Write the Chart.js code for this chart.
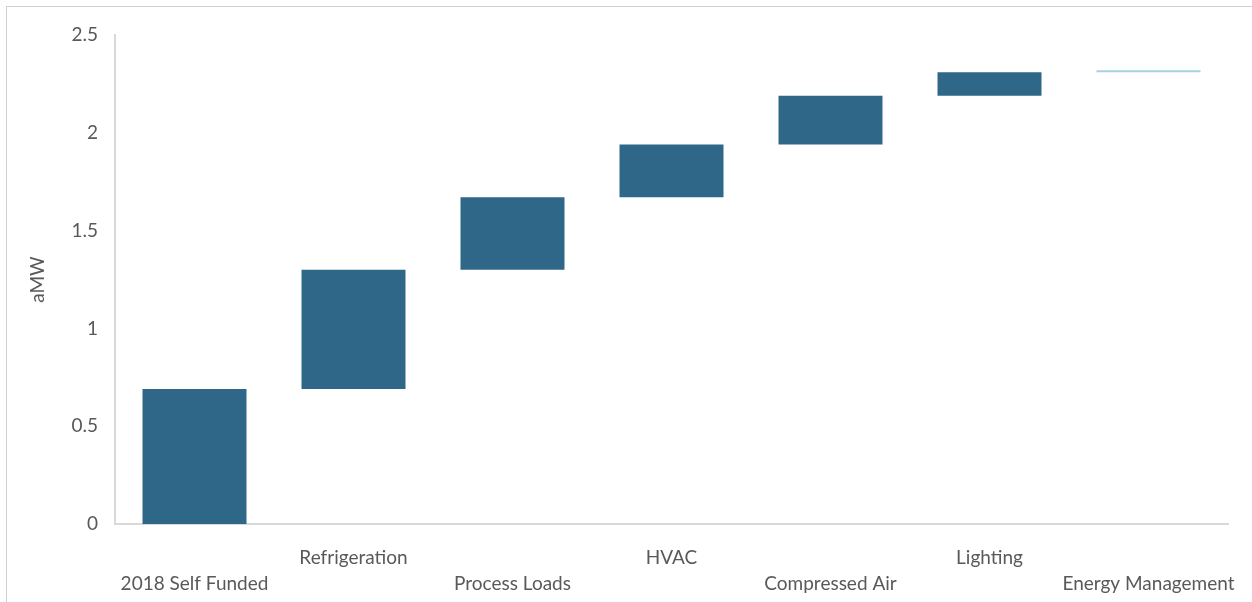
<!DOCTYPE html>
<html>
<head>
<meta charset="utf-8">
<script src="https://cdn.jsdelivr.net/npm/chart.js@4/dist/chart.umd.min.js"></script>
<style>
  html, body { margin: 0; padding: 0; background: #ffffff; }
  #wrap { position: relative; width: 1252px; height: 602px; overflow: hidden; }
  #frame { position: absolute; left: 6px; top: 6px; right: -2px; bottom: -2px;
           border-top: 1px solid #d0d0d0; border-left: 1px solid #d0d0d0; }
  canvas { position: absolute; left: 0; top: 0; }
</style>
</head>
<body>
<div id="wrap">
  <div id="frame"></div>
  <canvas id="c" width="1252" height="602"></canvas>
</div>
<script>
// Savings categories in cumulative (waterfall) order
const categories = ['2018 Self Funded', 'Refrigeration', 'Process Loads', 'HVAC',
                    'Compressed Air', 'Lighting', 'Energy Management'];
// Savings added by each category, aMW
const increments = [0.69, 0.61, 0.37, 0.27, 0.25, 0.12, 0.01];
const yTicks = [0, 0.5, 1, 1.5, 2, 2.5];

// Build floating [start, end] segments from the running total
const segments = [];
let running = 0;
for (const inc of increments) {
  segments.push([running, running + inc]);
  running += inc;
}

const barColors = categories.map((c, i) => i === categories.length - 1 ? '#a8d0e4' : '#2f6789');

const textColor = '#595959';
const axisColor = '#d9d9d9';
const fontFamily = 'Lato, "Open Sans", sans-serif';

new Chart(document.getElementById('c'), {
  type: 'bar',
  data: {
    labels: categories,
    datasets: [{
      data: segments,
      backgroundColor: barColors,
      borderWidth: 0,
      categoryPercentage: 1,
      barPercentage: 0.654
    }]
  },
  options: {
    responsive: false,
    animation: false,
    layout: { padding: { top: 35, right: 24, left: 0, bottom: 0 } },
    plugins: { legend: { display: false }, tooltip: { enabled: false } },
    scales: {
      x: {
        grid: { display: false, drawTicks: false },
        border: { display: true, color: axisColor, width: 2 },
        ticks: {
          autoSkip: false,
          maxRotation: 0,
          minRotation: 0,
          padding: 21,
          color: textColor,
          font: { family: fontFamily, size: 19, lineHeight: 1.35 },
          // alternate labels between two rows
          callback: function (value, index) {
            const name = this.getLabelForValue(value);
            return index % 2 === 0 ? ['', name] : [name];
          }
        },
        // let the last label run into the right margin
        afterFit: s => { s.height = 78; s.paddingLeft = 0; s.paddingRight = 0; }
      },
      y: {
        min: 0,
        max: 2.5,
        grid: { display: false, drawTicks: false },
        border: { display: true, color: axisColor, width: 2 },
        afterBuildTicks: s => { s.ticks = yTicks.map(v => ({ value: v })); },
        ticks: {
          padding: 17,
          color: textColor,
          font: { family: fontFamily, size: 19 },
          callback: v => String(v)
        },
        title: {
          display: true,
          text: 'aMW',
          color: textColor,
          font: { family: fontFamily, size: 19 },
          padding: { top: 26, bottom: 0 }
        },
        afterFit: s => { s.width = 115; }
      }
    }
  }
});
</script>
</body>
</html>
